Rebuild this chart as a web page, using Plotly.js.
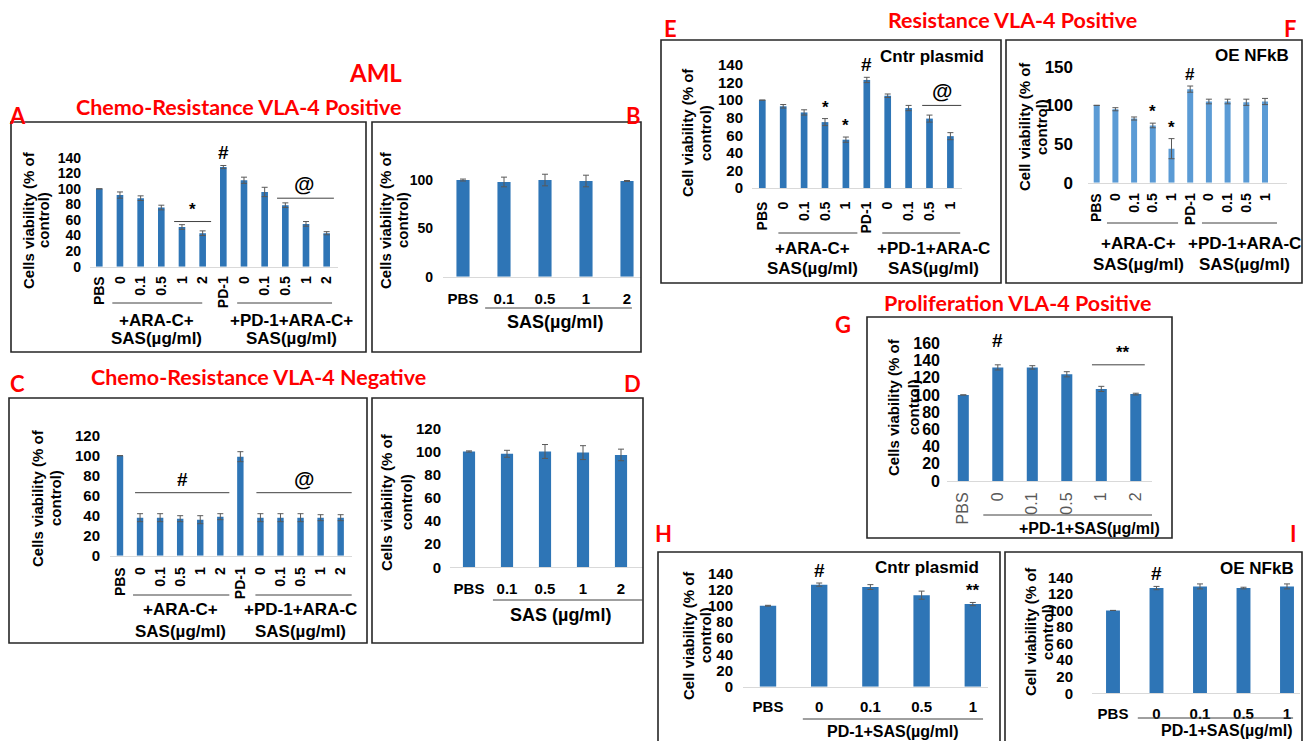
<!DOCTYPE html>
<html>
<head>
<meta charset="utf-8">
<script src="https://cdn.plot.ly/plotly-3.0.1.min.js"></script>
<style>html,body{margin:0;padding:0;background:#fff;}#chart{width:1303px;height:741px;}</style>
</head>
<body>
<div id="chart"></div>
<script>
// ---------------- DATA ----------------
const labelsA = ['PBS','0','0.1','0.5','1','2','PD-1','0','0.1','0.5','1','2'];
const valuesA = [100, 92, 88, 76, 51, 43, 128, 111, 96, 79, 55, 43];
const errorsA = [0, 4, 3, 3, 3, 3, 2, 4, 6, 3, 3, 2];

const labelsB = ['PBS','0.1','0.5','1','2'];
const valuesB = [100, 98, 100, 99, 99];
const errorsB = [1, 5, 6, 6, 0.5];

const labelsC = ['PBS','0','0.1','0.5','1','2','PD-1','0','0.1','0.5','1','2'];
const valuesC = [100, 38, 38, 37, 36, 39, 99, 38, 38, 38, 38, 38];
const errorsC = [0, 4, 4, 3, 4, 3, 5, 4, 4, 4, 3, 3];

const labelsD = ['PBS','0.1','0.5','1','2'];
const valuesD = [100, 98, 100, 99, 97];
const errorsD = [0.5, 3, 6, 6, 5];

const labelsE = ['PBS','0','0.1','0.5','1','PD-1','0','0.1','0.5','1'];
const valuesE = [100, 93, 86, 75, 55, 123, 105, 91, 79, 59];
const errorsE = [0, 2, 3, 4, 3, 3, 2, 3, 4, 4];

const labelsF = ['PBS','0','0.1','0.5','1','PD-1','0','0.1','0.5','1'];
const valuesF = [100, 95, 83, 74, 44, 121, 105, 105, 104, 105];
const errorsF = [0, 2, 2, 3, 13, 4, 3, 3, 4, 4];

const labelsG = ['PBS','0','0.1','0.5','1','2'];
const valuesG = [100, 132, 132, 124, 107, 101];
const errorsG = [0, 3, 2, 3, 3, 1];

const labelsH = ['PBS','0','0.1','0.5','1'];
const valuesH = [100, 126, 123, 113, 102];
const errorsH = [0.5, 2, 3, 5, 2];

const labelsI = ['PBS','0','0.1','0.5','1'];
const valuesI = [100, 127, 129, 127, 129];
const errorsI = [0, 2, 3, 1, 3];

// ---------------- LAYOUT HELPERS ----------------
const W = 1303, H = 741;
const px = x => x / W;
const py = y => 1 - y / H;
const AF = 'Liberation Sans, Arial, sans-serif';
const TF = 'Lato, Open Sans, sans-serif';
const RED = '#FF0000';
const BLUE = '#2E75B6';
const LBLUE = '#5B9BD5';
const YT1 = 'Cells viability (% of', YT2 = 'control)';
const YC1 = 'Cell viability (% of';

const panels = [
  {labels:labelsA, values:valuesA, errors:errorsA, color:BLUE, dom:[90,338], c0:99.3, s:20.67, zero:266.7, top:157.7, topVal:140, dtick:20,
   rot:true, ytf:14, xtf:14, ystand:8, xstand:3, yt:[YT1,YT2], ytx:[28,43], yty:220, ytsize:15,
   box:[11,122,366,352],
   brackets:[[0.63,4.98],[6.67,11.26]], brY:303, groups:[[2.75,'+ARA-C+','SAS(µg/ml)'],[9.3,'+PD-1+ARA-C+','SAS(µg/ml)']], grY:320, grGap:18, grSize:17,
   single:[[6,'#',19]], lines:[[3.62,5.41,58,'*',4.5,17],[8.6,11.35,88,'@',9.9,21]]},
  {labels:labelsB, values:valuesB, errors:errorsB, color:BLUE, dom:[443,641], c0:463, s:41, zero:276.7, top:160.7, topVal:120, dtick:50,
   rot:false, ytf:14, xtf:15, ystand:9, xstand:8, yt:[YT1,YT2], ytx:[385,402], yty:220, ytsize:15,
   box:[372,122,641,352],
   brackets:[[0.54,4.12]], brY:308, groups:[[2.24,'SAS(µg/ml)']], grY:322, grGap:0, grSize:18, single:[], lines:[]},
  {labels:labelsC, values:valuesC, errors:errorsC, color:BLUE, dom:[110,352], c0:120, s:20.06, zero:555.7, top:435.7, topVal:120, dtick:20,
   rot:true, ytf:15, xtf:14, ystand:9, xstand:5, yt:[YT1,YT2], ytx:[37,55], yty:498, ytsize:15,
   box:[9,398,367,643],
   brackets:[[0.65,5.45],[6.75,11.55]], brY:595, groups:[[3.0,'+ARA-C+','SAS(µg/ml)'],[9.0,'+PD-1+ARA-C','SAS(µg/ml)']], grY:609, grGap:22, grSize:17,
   single:[], lines:[[0.75,5.45,63,'#',3.1,19],[6.8,11.55,63,'@',9.15,21]]},
  {labels:labelsD, values:valuesD, errors:errorsD, color:BLUE, dom:[450,643], c0:469, s:38, zero:567.3, top:428.3, topVal:120, dtick:20,
   rot:false, ytf:15, xtf:15, ystand:8, xstand:8, yt:[YT1,YT2], ytx:[387,407], yty:502, ytsize:15,
   box:[372,398,643,643],
   brackets:[[0.63,4.58]], brY:600, groups:[[2.4,'SAS (µg/ml)']], grY:615, grGap:0, grSize:18, single:[], lines:[]},
  {labels:labelsE, values:valuesE, errors:errorsE, color:BLUE, dom:[752,962], c0:762.3, s:20.9, zero:188, top:65, topVal:140, dtick:20,
   rot:true, ytf:15, xtf:14, ystand:8, xstand:7, yt:[YC1,YT2], ytx:[687,705], yty:133, ytsize:15,
   box:[661,40,1001,283],
   brackets:[[0.77,4.55],[5.74,9.47]], brY:233, groups:[[2.39,'+ARA-C+','SAS(µg/ml)'],[8.18,'+PD-1+ARA-C','SAS(µg/ml)']], grY:248, grGap:20, grSize:17,
   single:[[3,'*',17],[4,'*',17],[5,'#',19]], lines:[[7.65,9.52,94,'@',8.6,21]],
   note:['Cntr plasmid',932,57,17]},
  {labels:labelsF, values:valuesF, errors:errorsF, color:LBLUE, dom:[1088,1287], c0:1096.7, s:18.7, zero:182.7, top:66.7, topVal:150, dtick:50,
   rot:true, ytf:17, xtf:14, ystand:14, xstand:4, yt:[YC1,YT2], ytx:[1025,1042], yty:127, ytsize:15,
   box:[1006,40,1302,283],
   brackets:[[0.55,4.35],[5.63,9.64]], brY:223, groups:[[2.21,'+ARA-C+','SAS(µg/ml)'],[7.9,'+PD-1+ARA-C','SAS(µg/ml)']], grY:243, grGap:22, grSize:17,
   single:[[3,'*',17],[4,'*',17],[5,'#',17]], lines:[],
   note:['OE NFkB',1252,55,17]},
  {labels:labelsG, values:valuesG, errors:errorsG, color:BLUE, dom:[947,1152], c0:963.3, s:34.5, zero:481, top:343.3, topVal:160, dtick:20,
   rot:true, ytf:16, xtf:16, xgray:true, ystand:6, xstand:4, yt:[YT1,YT2], ytx:[893,913], yty:407, ytsize:15,
   box:[867,317,1172,538],
   brackets:[[0.58,5.84]], brY:515, groups:[[3.67,'+PD-1+SAS(µg/ml)']], grY:528, grGap:0, grSize:16,
   single:[[1,'#',19,12]], lines:[[3.73,5.26,135,'**',4.63,17]]},
  {labels:labelsH, values:valuesH, errors:errorsH, color:BLUE, dom:[743,988], c0:768, s:51.2, zero:686.7, top:573.3, topVal:140, dtick:20,
   rot:false, ytf:15, xtf:15, ystand:9, xstand:6, yt:[YC1,YT2], ytx:[688,705], yty:635, ytsize:15,
   box:[658,552,1000,760],
   brackets:[[0.68,4.2]], brY:719, groups:[[2.44,'PD-1+SAS(µg/ml)']], grY:731, grGap:0, grSize:16,
   single:[[1,'#',19],[4,'**',17]], lines:[],
   note:['Cntr plasmid',927,567,17]},
  {labels:labelsI, values:valuesI, errors:errorsI, color:BLUE, dom:[1092,1300], c0:1113, s:43.5, zero:693.3, top:577.3, topVal:140, dtick:20,
   rot:false, ytf:15, xtf:15, ystand:18, xstand:7, yt:[YC1,YT2], ytx:[1030,1047], yty:632, ytsize:15,
   box:[1005,552,1302,760],
   brackets:[[0.57,4.14]], brY:718, groups:[[2.62,'PD-1+SAS(µg/ml)']], grY:730, grGap:0, grSize:16,
   single:[[1,'#',19]], lines:[],
   note:['OE NFkB',1257,568,17]}
];

const data = [];
const layout = {
  width: W, height: H, autosize: false,
  margin: {l:0, r:0, t:0, b:0, pad:0},
  paper_bgcolor: '#ffffff', plot_bgcolor: 'rgba(0,0,0,0)',
  showlegend: false,
  shapes: [], annotations: []
};

panels.forEach((p, k) => {
  const sfx = k === 0 ? '' : String(k + 1);
  const xa = 'x' + sfx, ya = 'y' + sfx;
  const idx = p.labels.map((_, i) => i);
  data.push({
    type: 'bar', x: idx, y: p.values, width: 0.32,
    marker: {color: p.color},
    error_y: {type: 'data', array: p.errors, visible: true, color: '#595959', thickness: 1, width: 3},
    xaxis: xa, yaxis: ya, hoverinfo: 'skip', cliponaxis: false
  });
  layout['xaxis' + sfx] = {
    domain: [px(p.dom[0]), px(p.dom[1])],
    range: [(p.dom[0] - p.c0) / p.s, (p.dom[1] - p.c0) / p.s],
    anchor: ya, tickmode: 'array', tickvals: idx, ticktext: p.labels,
    tickangle: p.rot ? -90 : 0,
    tickfont: {family: AF, size: p.xtf, color: p.xgray ? '#595959' : '#000', weight: p.xgray ? 'normal' : 'bold'},
    ticks: '', showline: true, linecolor: '#d9d9d9', linewidth: 1,
    showgrid: false, zeroline: false, fixedrange: true, ticklabelstandoff: p.xstand
  };
  layout['yaxis' + sfx] = {
    domain: [py(p.zero), py(p.top)], range: [0, p.topVal], dtick: p.dtick, tick0: 0,
    anchor: xa, ticks: '', showline: false, showgrid: false, zeroline: false, fixedrange: true,
    tickfont: {family: AF, size: p.ytf, color: '#000', weight: 'bold'},
    ticklabelstandoff: p.ystand
  };
  layout.shapes.push({type: 'rect', xref: 'paper', yref: 'paper',
    x0: px(p.box[0]), x1: px(p.box[2]), y0: py(p.box[3]), y1: py(p.box[1]),
    line: {color: '#262626', width: 1.6}, fillcolor: 'rgba(0,0,0,0)', layer: 'above'});
  p.yt.forEach((t, i) => layout.annotations.push({xref: 'paper', yref: 'paper', x: px(p.ytx[i]), y: py(p.yty), text: t,
    textangle: -90, showarrow: false, xanchor: 'center', yanchor: 'middle', align: 'center',
    font: {family: AF, size: p.ytsize, color: '#000', weight: 'bold'}}));
  p.brackets.forEach(b => layout.shapes.push({type: 'line', xref: xa, yref: 'paper',
    x0: b[0], x1: b[1], y0: py(p.brY), y1: py(p.brY), line: {color: '#404040', width: 1}}));
  p.groups.forEach(g => g.slice(1).forEach((t, i) => layout.annotations.push({xref: xa, yref: 'paper', x: g[0],
    y: py(p.grY + i * p.grGap),
    text: t, showarrow: false, xanchor: 'center', yanchor: 'middle', align: 'center',
    font: {family: AF, size: p.grSize, color: '#000', weight: 'bold'}})));
  p.single.forEach(m => layout.annotations.push({xref: xa, yref: ya, x: m[0],
    y: p.values[m[0]] + p.errors[m[0]], yshift: m[3] || 0, text: m[1], showarrow: false, xanchor: 'center', yanchor: 'bottom',
    font: {family: AF, size: m[2], color: '#000', weight: 'bold'}}));
  p.lines.forEach(l => {
    layout.shapes.push({type: 'line', xref: xa, yref: ya, x0: l[0], x1: l[1], y0: l[2], y1: l[2],
      line: {color: '#404040', width: 1}});
    layout.annotations.push({xref: xa, yref: ya, x: l[4], y: l[2], text: l[3], showarrow: false,
      xanchor: 'center', yanchor: 'bottom', yshift: 1,
      font: {family: AF, size: l[5], color: '#000', weight: 'bold'}});
  });
  if (p.note) layout.annotations.push({xref: 'paper', yref: 'paper', x: px(p.note[1]), y: py(p.note[2]),
    text: p.note[0], showarrow: false, xanchor: 'center', yanchor: 'middle',
    font: {family: AF, size: p.note[3], color: '#000', weight: 'bold'}});
});

const heads = [
  ['AML', 375, 72, 24], ['Chemo-Resistance VLA-4 Positive', 238, 107, 21.5],
  ['Chemo-Resistance VLA-4 Negative', 258, 377, 21.5], ['Resistance VLA-4 Positive', 1012, 20, 21.5],
  ['Proliferation VLA-4 Positive', 1018, 303, 21.5],
  ['A', 17, 115, 22], ['B', 633, 115, 22], ['C', 17, 383, 22], ['D', 632, 383, 22],
  ['E', 670, 28, 22], ['F', 1290, 28, 22], ['G', 843, 324, 22], ['H', 663, 533, 22], ['I', 1293, 533, 22]
];
heads.forEach(h => layout.annotations.push({xref: 'paper', yref: 'paper', x: px(h[1]), y: py(h[2]),
  text: h[0], showarrow: false, xanchor: 'center', yanchor: 'middle',
  font: {family: TF, size: h[3], color: RED, weight: 'bold'}}));

Plotly.newPlot('chart', data, layout, {staticPlot: true, displayModeBar: false});
</script>
</body>
</html>
